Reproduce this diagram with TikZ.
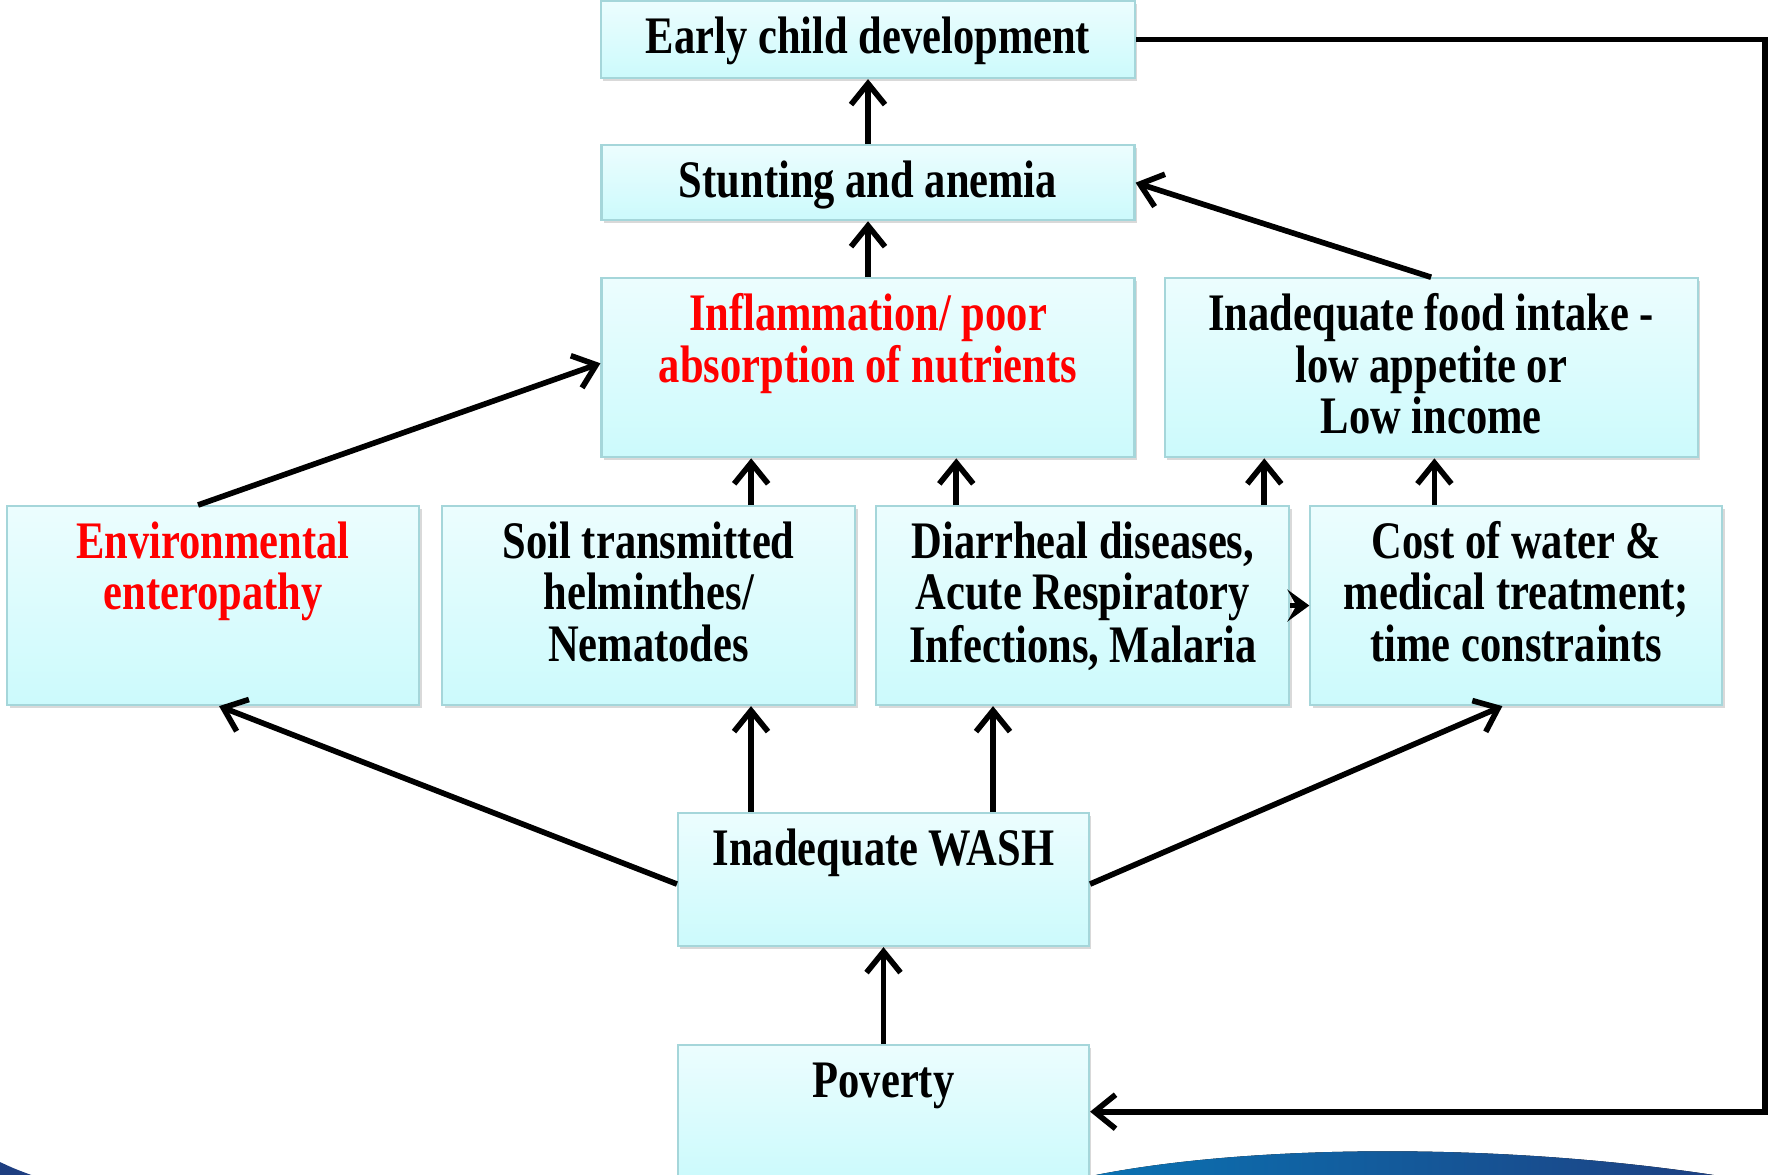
\documentclass[tikz,border=0pt]{standalone}
\usepackage{fontspec}
\setmainfont{Liberation Serif}
\usepackage{graphicx}
\usetikzlibrary{positioning, shapes, calc, shadows, arrows.meta}
\definecolor{boxtop}{RGB}{236,253,254}
\definecolor{boxbot}{RGB}{204,250,252}
\definecolor{boxline}{RGB}{165,214,218}
\definecolor{swooshlight}{RGB}{8,120,184}
\definecolor{swooshdark}{RGB}{30,62,128}
\tikzset{blk/.style={draw=boxline, line width=0.6pt, top color=boxtop, bottom color=boxbot, inner sep=0pt, text height=0.52cm, font=\bfseries\fontsize{12.1}{11.6}\selectfont, drop shadow={shadow xshift=0.7pt, shadow yshift=-0.9pt, opacity=0.3}}}
\tikzset{arr/.style={-{Straight Barb[length=2.1mm,width=3.4mm]}, line width=1.6pt}}
\newcommand{\btxt}[1]{\scalebox{1}[1.24]{\begin{tabular}[t]{@{}c@{}}#1\end{tabular}}}

\begin{document}
\begin{tikzpicture}
		\useasboundingbox (0,0) rectangle (17.68,-11.74);
		% Draw swoosh at the bottom
		\fill[left color=swooshlight, right color=swooshdark] (10.2,-11.95) .. controls (11.6,-11.45) and (14.8,-11.35) .. (17.45,-11.8) -- cycle;
		\fill[swooshdark] (0,-11.62) .. controls (0.15,-11.69) .. (0.45,-11.8) -- (0,-11.8) -- cycle;
		% Draw boxes
		\node[blk, anchor=north, minimum width=5.34cm, text depth=0.25cm] (ecd) at (8.68,0) {\btxt{Early child development}};
		\node[blk, minimum width=5.33cm, text depth=0.23cm, below = 0.65cm of ecd] (stunt) {\btxt{Stunting and anemia}};
		\node[blk, minimum width=5.33cm, text depth=1.27cm, text=red, below = 0.56cm of stunt] (inflam) {\btxt{Inflammation/ poor\\absorption of nutrients}};
		\node[blk, minimum width=5.33cm, text depth=1.27cm, right = 0.28cm of inflam] (food) {\btxt{Inadequate food intake -\\low appetite or\\Low income}};
		\node[blk, anchor=north west, minimum width=4.12cm, text depth=1.47cm, text=red] (env) at (0.06,-5.05) {\btxt{Environmental\\enteropathy}};
		\node[blk, minimum width=4.13cm, text depth=1.47cm, right = 0.21cm of env] (soil) {\btxt{Soil transmitted\\helminthes/\\Nematodes}};
		\node[blk, minimum width=4.13cm, text depth=1.47cm, right = 0.19cm of soil] (diar) {\btxt{Diarrheal diseases,\\Acute Respiratory\\Infections, Malaria}};
		\node[blk, minimum width=4.12cm, text depth=1.47cm, right = 0.19cm of diar] (cost) {\btxt{Cost of water \&\\medical treatment;\\time constraints}};
		\node[blk, anchor=north, minimum width=4.11cm, text depth=0.81cm] (wash) at (8.835,-8.12) {\btxt{Inadequate WASH}};
		\node[blk, minimum width=4.11cm, text depth=0.81cm, below = 0.97cm of wash] (pov) {\btxt{Poverty}};
		% Draw arrows between boxes
		\draw[arr] (stunt.north) -- (stunt.north |- ecd.south);
		\draw[arr] (inflam.north) -- (inflam.north |- stunt.south);
		\draw[arr] (food.north) -- (stunt.east);
		\draw[arr] ([xshift=-0.15cm]env.north) -- ([yshift=0.045cm]inflam.west);
		\draw[arr] ([xshift=1.025cm]soil.north) -- ([xshift=1.025cm]soil.north |- inflam.south);
		\draw[arr] ([xshift=-1.265cm]diar.north) -- ([xshift=-1.265cm]diar.north |- inflam.south);
		\draw[arr] ([xshift=1.815cm]diar.north) -- ([xshift=1.815cm]diar.north |- food.south);
		\draw[arr] ([xshift=-0.82cm]cost.north) -- ([xshift=-0.82cm]cost.north |- food.south);
		\draw[-{Stealth[length=2.2mm,width=3.2mm,inset=0.9mm]}, line width=1.6pt] (diar.east) -- (cost.west);
		\draw[arr] ([yshift=-0.045cm]wash.west) -- ([xshift=0.06cm]env.south);
		\draw[arr] ([xshift=-1.325cm]wash.north) -- ([xshift=-1.325cm]wash.north |- soil.south);
		\draw[arr] ([xshift=1.095cm]wash.north) -- ([xshift=1.095cm]wash.north |- diar.south);
		\draw[arr] ([yshift=-0.045cm]wash.east) -- ([xshift=-0.14cm]cost.south);
		\draw[arr] (pov.north) -- (wash.south);
		% Draw feedback loop
		\coordinate (rc) at (17.65,0);
		\draw[arr] (ecd.east) -- (ecd.east -| rc) |- (pov.east);
	\end{tikzpicture}
\end{document}
